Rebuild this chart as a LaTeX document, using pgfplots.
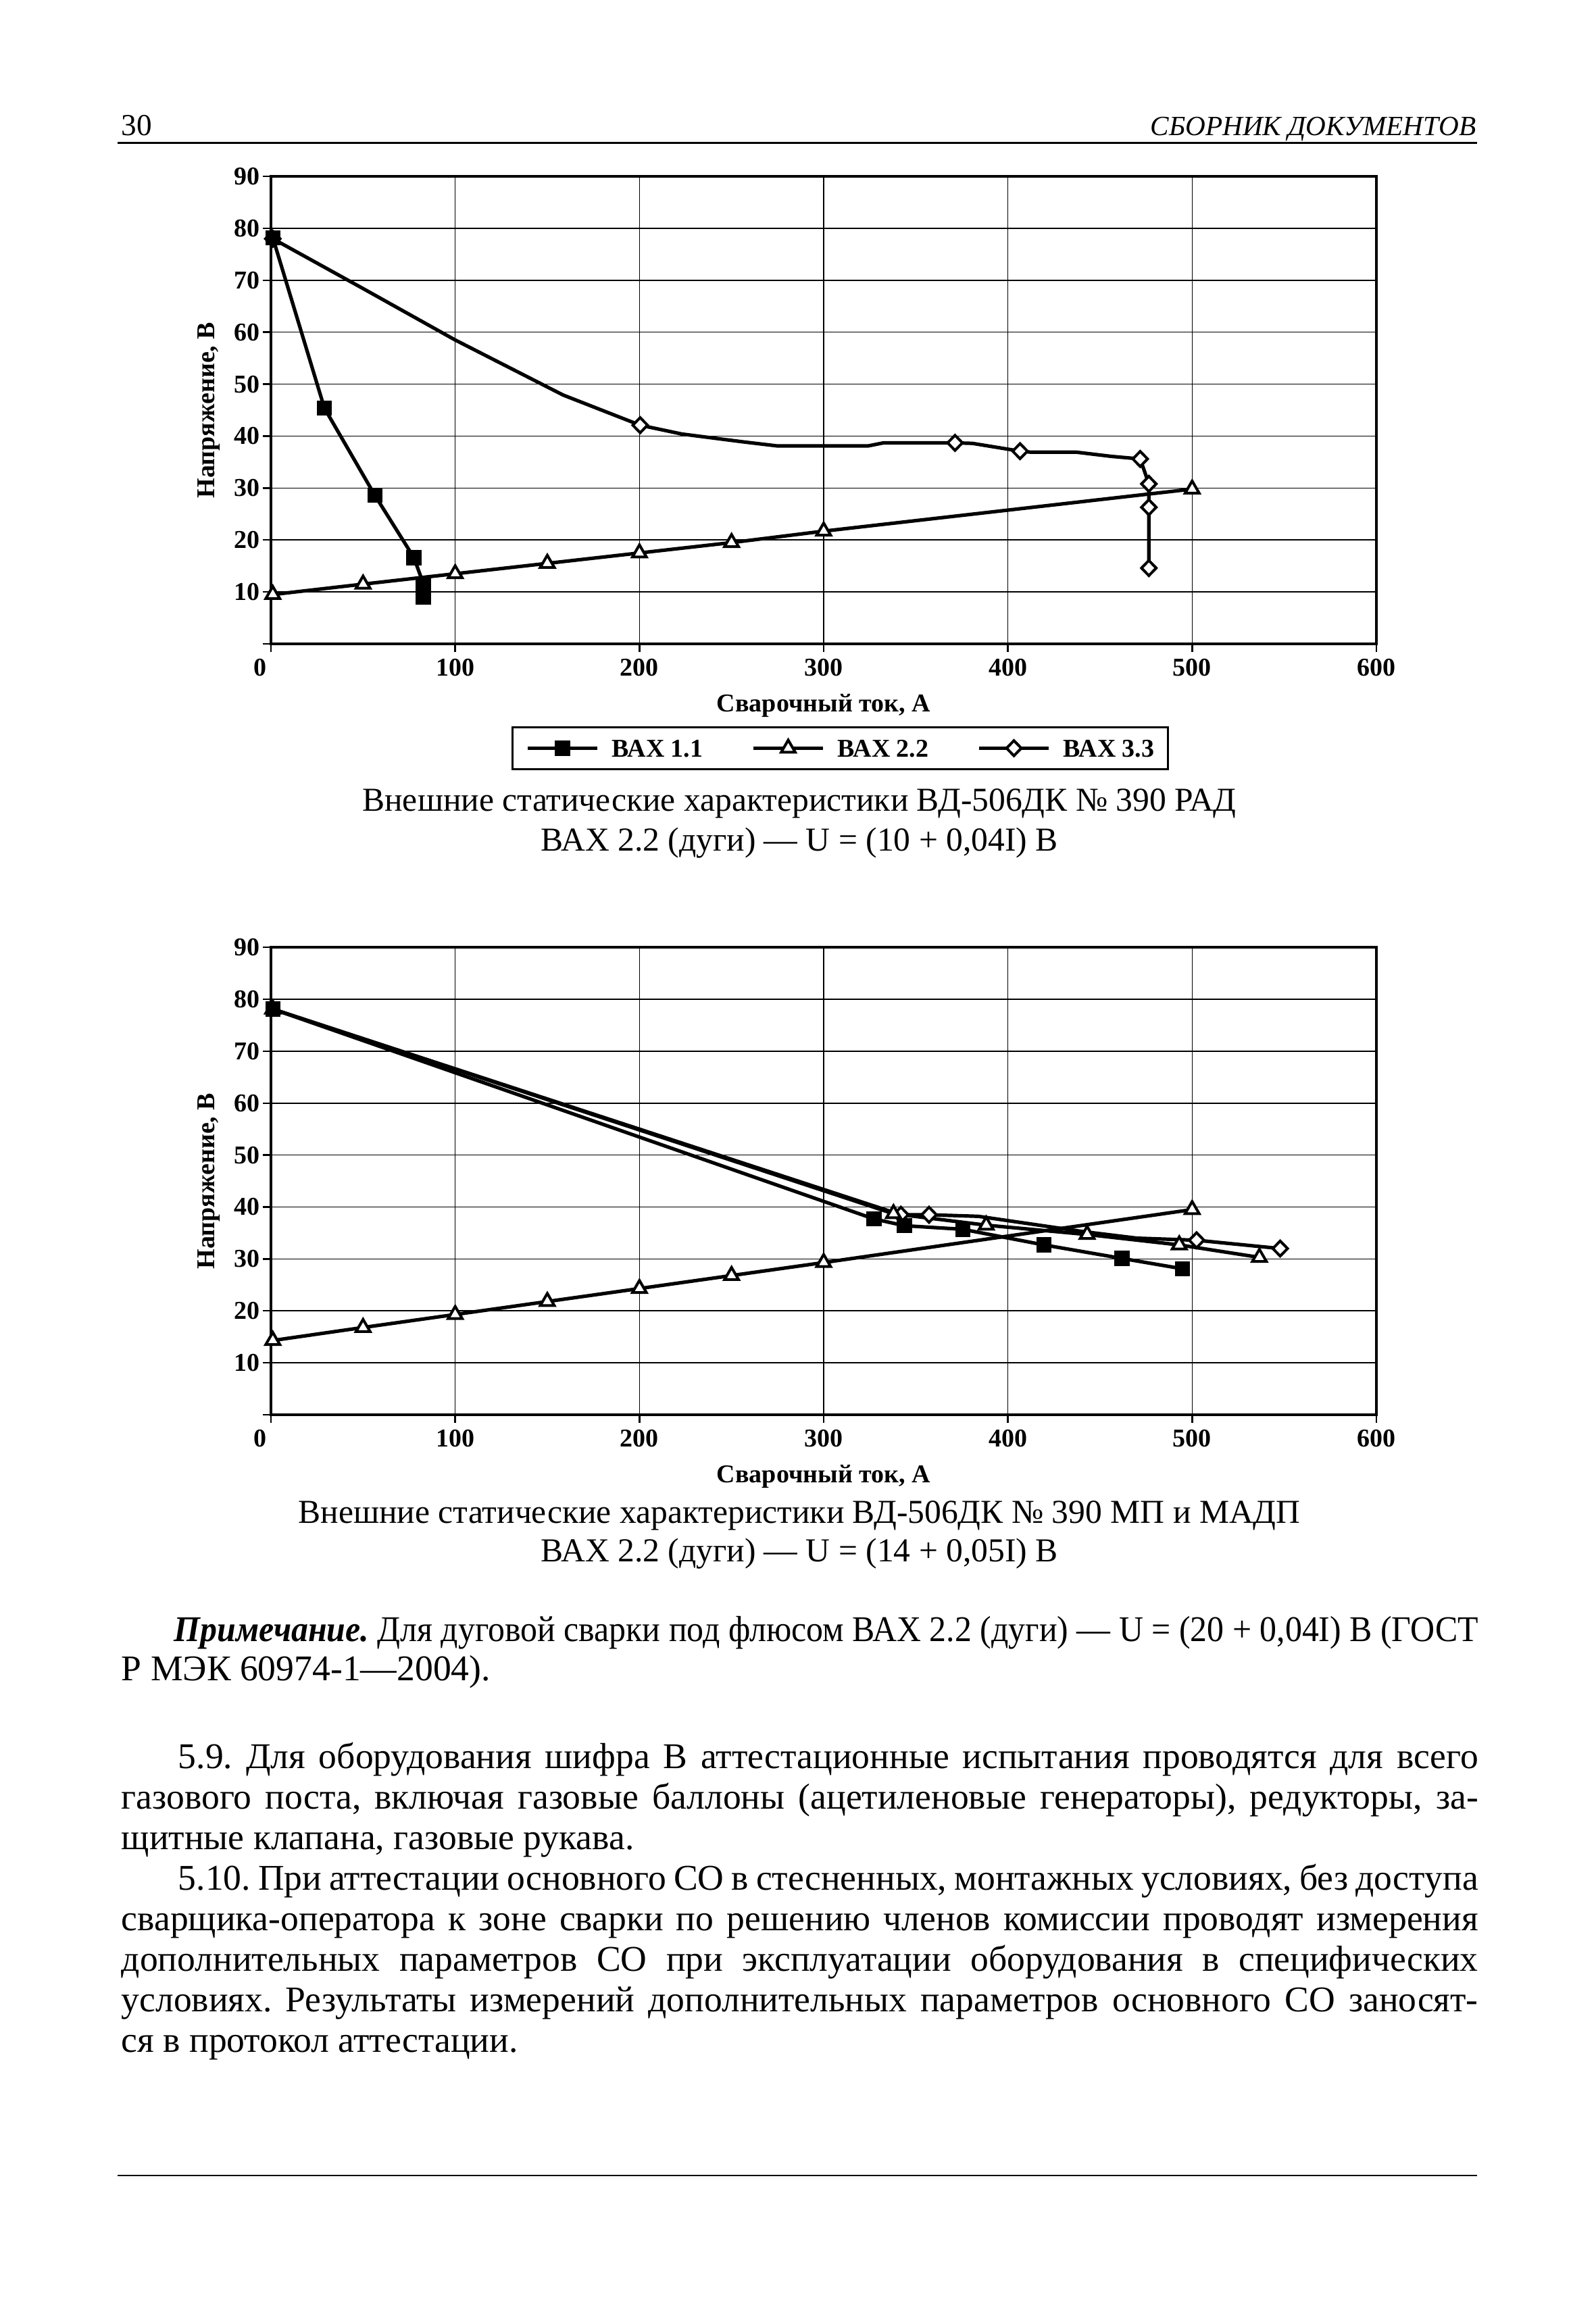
\documentclass[border=0pt]{standalone}
\usepackage{fontspec}
\setmainfont{Liberation Serif}
\usepackage{graphicx}
\usepackage{pgfplots}
\pgfplotsset{compat=1.18}

\newcommand{\chfont}{\fontsize{9.5}{11}\selectfont\bfseries}
% one justified text line of the page body
\newcommand{\jline}[1]{\hbox to 502pt{#1}}
\newcommand{\lline}[1]{\hbox to 502pt{#1\hfil}}
\newcommand{\bodyspace}{\spaceskip=0.25em plus 0.5em minus 0.1em\relax}

\pgfplotsset{
  vax/.style={
    scale only axis, width=409pt, height=173pt, anchor=south west,
    xmin=0, xmax=600, ymin=0, ymax=90,
    xtick={100,200,...,600}, ytick={0,10,...,90},
    yticklabels={,10,20,30,40,50,60,70,80,90},
    extra x ticks={0},
    extra x tick style={xticklabel style={xshift=-4pt}},
    xtick pos=left, ytick pos=left,
    tick align=outside, major tick length=3pt,
    grid=major, major grid style={line width=0.4pt, black},
    axis line style={line width=0.8pt},
    every tick/.style={black, line width=0.6pt},
    /pgf/number format/assume math mode=true,
    ticklabel style={font=\chfont, inner sep=0pt},
    xticklabel style={anchor=base, yshift=-8.75pt},
    yticklabel style={anchor=east, xshift=-1pt},
    label style={font=\chfont},
    xlabel={Сварочный ток, А}, ylabel={Напряжение, В},
    xlabel style={at={(axis description cs:0.5,0)}, anchor=base, yshift=-25pt},
    ylabel style={at={(axis description cs:-0.0562,0.5)}, anchor=center},
    every axis plot/.append style={line width=1.3pt, black},
    clip=false,
  },
  sq/.style={mark=square*, mark size=2.4pt, mark options={solid, fill=black, line width=0.8pt}},
  tri/.style={mark=triangle*, mark size=3pt, mark options={solid, fill=white, line width=1pt}},
  dia/.style={mark=diamond*, mark size=2.8pt, mark options={solid, fill=white, line width=1pt, xscale=1.3}},
}

\begin{document}
\frenchspacing
\begin{tikzpicture}
\path[use as bounding box] (0pt,0pt) rectangle (590.5pt,-856.25pt);

% page header
\node[anchor=base west, inner sep=0pt, font=\fontsize{11.3}{13}\selectfont] at (44.75pt,-50.25pt) {30};
\node[anchor=base east, inner sep=0pt, font=\fontsize{10.3}{13}\selectfont\itshape] at (546.25pt,-50.25pt) {СБОРНИК ДОКУМЕНТОВ};
\draw[line width=0.7pt] (43.5pt,-52.9pt) -- (546.5pt,-52.9pt);

% chart 1
\begin{axis}[vax, at={(100.25pt,-238.25pt)},
    legend columns=3,
    legend style={at={(0.2176,-0.1763)}, anchor=north west, draw=black, line width=0.7pt,
      inner xsep=5pt, inner ysep=4.5pt, font=\chfont,
      nodes={inner sep=0pt, text height=6.5pt, text depth=0pt},
      /tikz/every odd column/.style={column sep=4.75pt},
      /tikz/every even column/.style={column sep=18pt}},
    legend image code/.code={
      \draw[#1] (0pt,0pt) -- (25.75pt,0pt);
      \draw[#1] plot coordinates {(12.875pt,0pt)};
    },
  ]
  \addlegendimage{line width=1.3pt, sq}
  \addlegendentry{ВАХ 1.1}
  \addlegendimage{line width=1.3pt, tri}
  \addlegendentry{ВАХ 2.2}
  \addlegendimage{line width=1.3pt, dia}
  \addlegendentry{ВАХ 3.3}

  % ВАХ 2.2
  \addplot[tri, forget plot] coordinates {
    (1,9.5) (50,11.5) (100,13.5) (150,15.5) (200,17.5) (250,19.5) (300,21.7) (500,29.8)};
  % ВАХ 3.3 line and marks
  \addplot[no marks, forget plot] coordinates {
    (1,78) (50,68.4) (100,58.5) (158.6,47.9) (200.4,42.1) (223,40.4) (256,38.9)
    (275,38.1) (324,38.1) (332.5,38.7) (371.3,38.7) (380.7,38.6) (406.6,37.1)
    (412.5,36.9) (437.2,36.9) (456,36.1) (471.8,35.6) (476.5,30.8) (476.5,26.3) (476.5,14.6)};
  \addplot[dia, only marks, forget plot] coordinates {
    (1,78) (200.4,42.1) (371.3,38.7) (406.6,37.1) (471.8,35.6) (476.5,30.8) (476.5,26.3) (476.5,14.6)};
  % ВАХ 1.1
  \addplot[sq, forget plot] coordinates {
    (1,78.2) (29,45.4) (56.4,28.6) (77.6,16.6) (82.7,11.6) (82.7,9.0)};
\end{axis}

\node[anchor=base, inner sep=0pt, font=\fontsize{12.4}{15}\selectfont] at (295.75pt,-300pt)
  {Внешние статические характеристики ВД-506ДК № 390 РАД};
\node[anchor=base, inner sep=0pt, font=\fontsize{12.4}{15}\selectfont] at (295.75pt,-314.75pt)
  {ВАХ 2.2 (дуги) — U = (10 + 0,04I) В};

% chart 2
\begin{axis}[vax, at={(100.25pt,-523.5pt)}]
  % ВАХ 2.2 (rising)
  \addplot[tri, forget plot] coordinates {
    (1,14.3) (50,16.8) (100,19.3) (150,21.8) (200,24.3) (250,26.8) (300,29.3) (500,39.5)};
  % falling, diamonds
  \addplot[no marks, forget plot] coordinates {
    (1,78.1) (341.9,38.5) (357.2,38.5) (384,38.2) (440,35.3) (470,34.0) (502.4,33.6) (547.8,32.0)};
  \addplot[dia, only marks, forget plot] coordinates {
    (341.9,38.5) (357.2,38.5) (502.4,33.6) (547.8,32.0)};
  % falling, triangles
  \addplot[tri, forget plot] coordinates {
    (1,78.1) (337.9,38.7) (388.2,36.5) (443,34.7) (493,32.7) (536.5,30.3)};
  % falling, squares
  \addplot[sq, forget plot] coordinates {
    (1,78.1) (327.3,37.7) (343.8,36.4) (375.5,35.7) (419.5,32.7) (461.9,30.1) (494.8,28.1)};
\end{axis}

\node[anchor=base, inner sep=0pt, font=\fontsize{12.4}{15}\selectfont] at (295.75pt,-563.5pt)
  {Внешние статические характеристики ВД-506ДК № 390 МП и МАДП};
\node[anchor=base, inner sep=0pt, font=\fontsize{12.4}{15}\selectfont] at (295.75pt,-577.75pt)
  {ВАХ 2.2 (дуги) — U = (14 + 0,05I) В};

% body text, line by line as in the page
\node[anchor=base west, inner sep=0pt, text width=502pt,
      font=\fontsize{13.4}{14.5}\selectfont] at (44.75pt,-607.25pt)
  {\bodyspace
   \hbox to 502pt{\resizebox{502pt}{\height}{\hbox{\hspace*{21pt}\textbf{\textit{Примечание.}} Для дуговой сварки под флюсом ВАХ 2.2 (дуги) — U = (20 + 0,04I) В (ГОСТ}}}
   \lline{Р МЭК 60974-1—2004).}};
\node[anchor=base west, inner sep=0pt, text width=502pt,
      font=\fontsize{13.4}{15}\selectfont] at (44.75pt,-654.25pt)
  {\bodyspace
   \jline{\hspace*{21pt}5.9. Для оборудования шифра В аттестационные испытания проводятся для всего}
   \jline{газового поста, включая газовые баллоны (ацетиленовые генераторы), редукторы, за-}
   \lline{щитные клапана, газовые рукава.}
   \jline{\hspace*{21pt}5.10. При аттестации основного СО в стесненных, монтажных условиях, без доступа}
   \jline{сварщика-оператора к зоне сварки по решению членов комиссии проводят измерения}
   \jline{дополнительных параметров СО при эксплуатации оборудования в специфических}
   \jline{условиях. Результаты измерений дополнительных параметров основного СО заносят-}
   \lline{ся в протокол аттестации.}};

\draw[line width=0.5pt] (43.5pt,-805pt) -- (546.5pt,-805pt);
\end{tikzpicture}
\end{document}
